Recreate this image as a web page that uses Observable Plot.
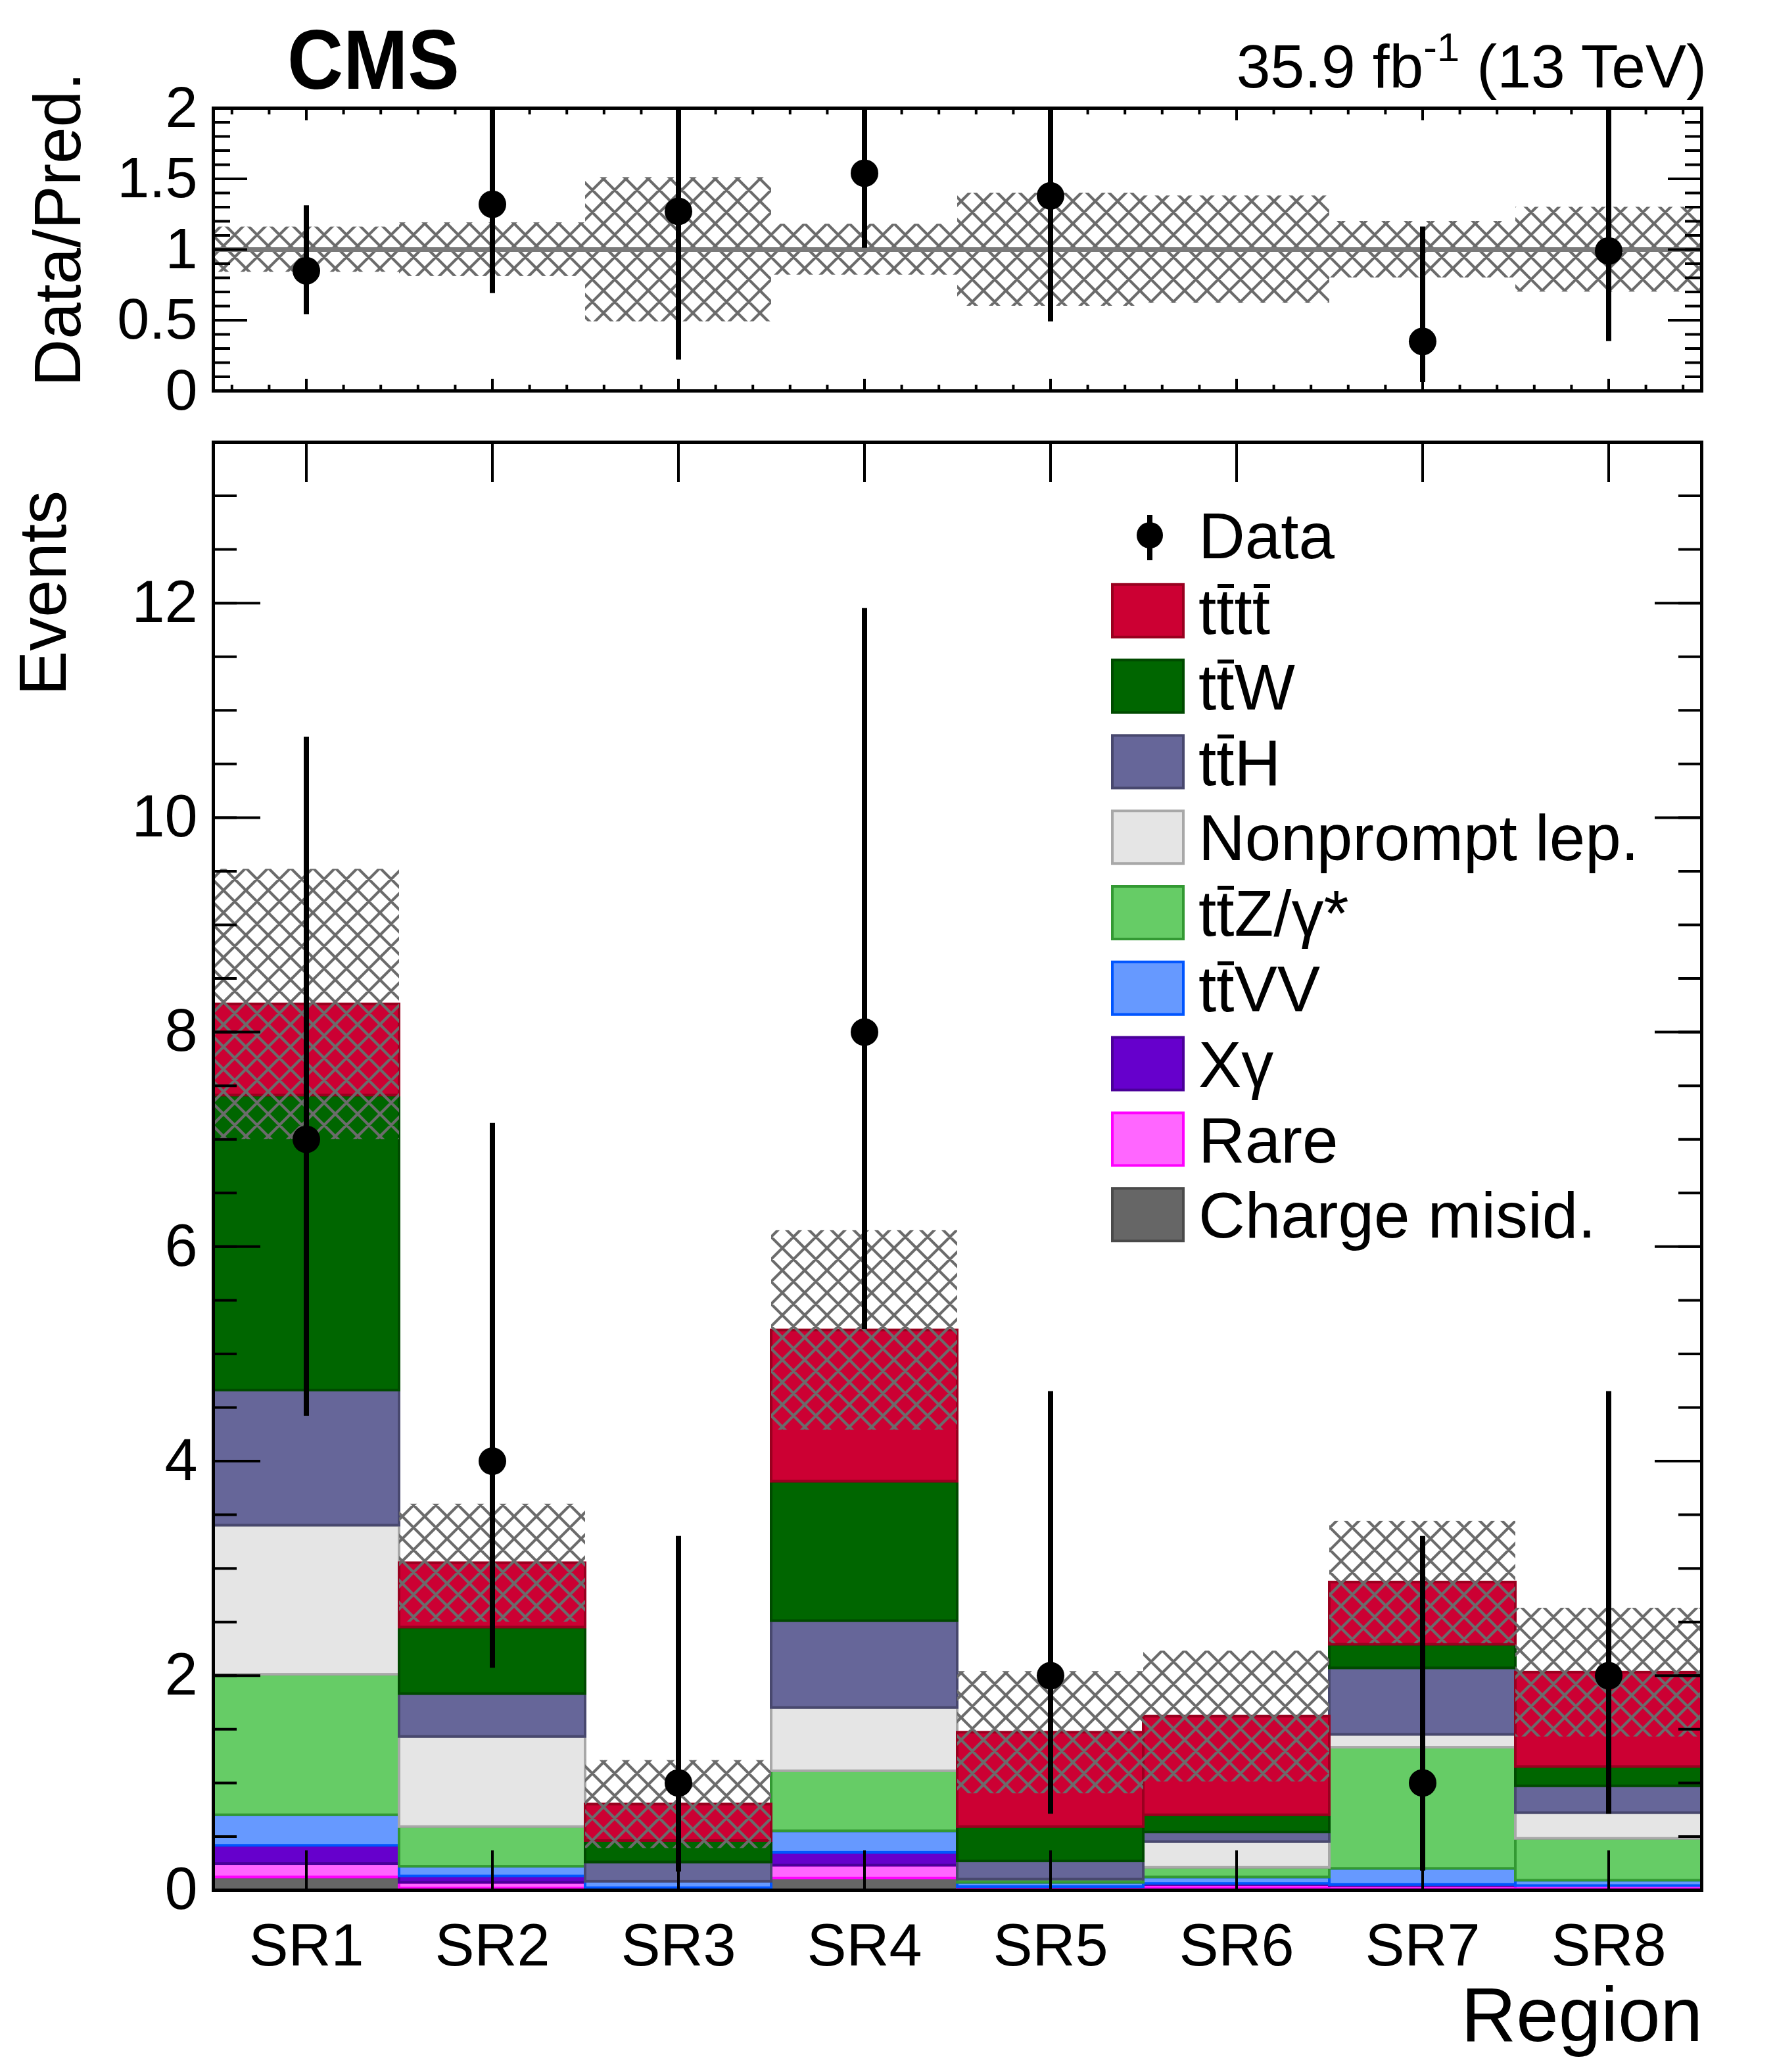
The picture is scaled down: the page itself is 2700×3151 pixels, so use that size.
<!DOCTYPE html>
<html><head><meta charset="utf-8">
<script src="https://cdn.jsdelivr.net/npm/d3@7"></script>
<script src="https://cdn.jsdelivr.net/npm/@observablehq/plot@0.6"></script>
<style>
html,body{margin:0;padding:0;background:#fff;}
#root{position:relative;width:2700px;height:3151px;font-family:"Liberation Sans",Arial,Helvetica,sans-serif;color:#000;overflow:hidden;background:#fff}
.abs{position:absolute;left:0;top:0}
.lab{position:absolute;white-space:nowrap;line-height:1;font-size:98px}
.ov{position:relative;display:inline-block;line-height:1}
.ov::after{content:"";position:absolute;left:0.02em;right:0.0em;top:0.07em;height:6px;background:#000}
</style></head><body><div id="root"></div>
<script>
// ---------------- data ----------------
const regions = ["SR1","SR2","SR3","SR4","SR5","SR6","SR7","SR8"];

// predicted yields per process
const tttt        = [0.85, 0.60, 0.34, 1.41, 0.88, 0.92, 0.58, 0.88];
const ttW         = [2.75, 0.62, 0.20, 1.30, 0.32, 0.16, 0.22, 0.18];
const ttH         = [1.26, 0.40, 0.18, 0.81, 0.17, 0.09, 0.62, 0.25];
const nonprompt   = [1.39, 0.84, 0.00, 0.59, 0.00, 0.24, 0.12, 0.24];
const ttZ         = [1.31, 0.37, 0.00, 0.56, 0.03, 0.09, 1.13, 0.39];
const ttVV        = [0.285,0.09, 0.06, 0.20, 0.04, 0.06, 0.15, 0.05];
const xgamma      = [0.17, 0.06, 0.00, 0.12, 0.00, 0.01, 0.01, 0.00];
const rare        = [0.125,0.054,0.01, 0.12, 0.02, 0.03, 0.03, 0.03];
const chargeMisid = [0.12, 0.016,0.01, 0.11, 0.01, 0.02, 0.01, 0.01];

// total prediction uncertainty (absolute, half-width of hatched band)
const predUnc = [1.26, 0.55, 0.41, 0.93, 0.57, 0.61, 0.57, 0.60];

// observed data and error bars (SR6 has no entry drawn)
const dataObs  = [7, 4, 1, 8, 2, null, 1, 2];
const dataLow  = [4.42, 2.07, 0.17, 5.23, 0.71, null, 0.18, 0.71];
const dataHigh = [10.75, 7.15, 3.30, 11.95, 4.65, null, 3.30, 4.65];

// ratio panel
const ratioValues = [0.85, 1.32, 1.27, 1.54, 1.38, null, 0.35, 0.99];
const ratioLow    = [0.54, 0.69, 0.22, 1.01, 0.49, null, 0.06, 0.35];
const ratioHigh   = [1.31, 2.35, 4.10, 2.29, 3.16, null, 1.16, 2.29];
const ratioBand   = [0.16, 0.19, 0.51, 0.18, 0.40, 0.38, 0.20, 0.30];

// tick values
const mainMajorTicks = [0, 2, 4, 6, 8, 10, 12];
const mainMinorTicks = d3.range(0, 13.51, 0.5);
const ratioMajorTicks = [0, 0.5, 1, 1.5, 2];
const ratioMinorTicks = d3.range(0, 2.0001, 0.1);

// processes in legend order (top of legend = top of stack)
const processes = [
  {label: "tt\u0304tt\u0304",   values: tttt,        fill: "#cc0033", stroke: "#99001f"},
  {label: "tt\u0304W",          values: ttW,         fill: "#006600", stroke: "#004a00"},
  {label: "tt\u0304H",          values: ttH,         fill: "#666699", stroke: "#48486e"},
  {label: "Nonprompt lep.",     values: nonprompt,   fill: "#e5e5e5", stroke: "#a8a8a8"},
  {label: "tt\u0304Z/\u03b3*",  values: ttZ,         fill: "#66cc66", stroke: "#339933"},
  {label: "tt\u0304VV",         values: ttVV,        fill: "#6699ff", stroke: "#0055ff"},
  {label: "X\u03b3",            values: xgamma,      fill: "#6600cc", stroke: "#4a0099"},
  {label: "Rare",               values: rare,        fill: "#ff66ff", stroke: "#ff00ff"},
  {label: "Charge misid.",      values: chargeMisid, fill: "#666666", stroke: "#4a4a4a"}
];

// ---------------- tables ----------------
const stackRows = [];
processes.slice().reverse().forEach(p => {
  p.values.forEach((v, i) => { if (v > 0) stackRows.push({bin: i, value: v, fill: p.fill, stroke: p.stroke}); });
});
const bins = regions.map((r, i) => ({
  bin: i, region: r,
  total: d3.sum(processes, p => p.values[i]),
  unc: predUnc[i], band: ratioBand[i]
}));
const obsRows = regions.map((r, i) => ({bin: i, n: dataObs[i], lo: dataLow[i], hi: dataHigh[i]})).filter(d => d.n != null);
const ratioRows = regions.map((r, i) => ({bin: i, v: ratioValues[i], lo: ratioLow[i], hi: ratioHigh[i]})).filter(d => d.v != null);

const centers = regions.map((r, i) => i + 0.5);
const xMinor = [];
regions.forEach((r, i) => [0.1, 0.3, 0.7, 0.9].forEach(f => xMinor.push(i + f)));

const FONT = "Liberation Sans, Arial, Helvetica, sans-serif";
const W = 2700, LEFT = 324, RIGHT = 112;
const HW = 34, HH = 34;
const hatchPath = (() => {
  let d = "";
  for (const dx of [-HW, 0, HW]) for (const dy of [-HH, 0, HH]) {
    d += `M${dx},${dy}L${dx + HW},${dy + HH}M${dx + HW},${dy}L${dx},${dy + HH}`;
  }
  return d;
})();
function addPattern(svg, id) {
  d3.select(svg).insert("defs", ":first-child").html(
    `<pattern id="${id}" patternUnits="userSpaceOnUse" width="${HW}" height="${HH}"><path d="${hatchPath}" stroke="#6b6b6b" stroke-width="4.2" fill="none"/></pattern>`);
}

const root = document.getElementById("root");

// ---------------- ratio panel ----------------
const ratioPlot = Plot.plot({
  width: W, height: 640,
  marginLeft: LEFT, marginRight: RIGHT, marginTop: 164, marginBottom: 46,
  x: {domain: [0, 8], axis: null},
  y: {domain: [0, 2], axis: null},
  color: {type: "identity"},
  style: {fontFamily: FONT, background: "transparent", overflow: "visible", color: "black"},
  marks: [
    Plot.rect(bins, {x1: "bin", x2: d => d.bin + 1, y1: d => 1 - d.band, y2: d => 1 + d.band, fill: "url(#hatchR)"}),
    Plot.ruleY([1], {stroke: "#7a7a7a", strokeWidth: 7}),
    Plot.ruleX(ratioRows, {x: d => d.bin + 0.5, y1: "lo", y2: "hi", stroke: "black", strokeWidth: 8, clip: true}),
    Plot.dot(ratioRows, {x: d => d.bin + 0.5, y: "v", r: 21, fill: "black", stroke: null}),
    Plot.axisY(ratioMinorTicks, {anchor: "left", tickSize: -26, strokeWidth: 4, fill: "none", label: null}),
    Plot.axisY(ratioMajorTicks, {anchor: "left", tickSize: -52, strokeWidth: 4, fill: "none", label: null}),
    Plot.axisY(ratioMinorTicks, {anchor: "right", tickSize: -26, strokeWidth: 4, fill: "none", label: null}),
    Plot.axisY(ratioMajorTicks, {anchor: "right", tickSize: -52, strokeWidth: 4, fill: "none", label: null}),
    Plot.axisY(ratioMajorTicks, {anchor: "left", tickSize: 0, tickPadding: 24, fontSize: 88, tickFormat: d => String(d), label: null}),
    Plot.axisX(xMinor, {anchor: "bottom", tickSize: -9, strokeWidth: 4, fill: "none", label: null}),
    Plot.axisX(centers, {anchor: "bottom", tickSize: -18, strokeWidth: 4, fill: "none", label: null}),
    Plot.axisX(xMinor, {anchor: "top", tickSize: -9, strokeWidth: 4, fill: "none", label: null}),
    Plot.axisX(centers, {anchor: "top", tickSize: -18, strokeWidth: 4, fill: "none", label: null}),
    Plot.frame({stroke: "black", strokeWidth: 5})
  ]
});
addPattern(ratioPlot, "hatchR");
const rdiv = document.createElement("div"); rdiv.className = "abs"; rdiv.style.top = "0px";
rdiv.appendChild(ratioPlot); root.appendChild(rdiv);

// ---------------- main panel ----------------
const mainPlot = Plot.plot({
  width: W, height: 2511,
  marginLeft: LEFT, marginRight: RIGHT, marginTop: 32, marginBottom: 277,
  x: {domain: [0, 8], axis: null},
  y: {domain: [0, 13.5], axis: null},
  color: {type: "identity"},
  style: {fontFamily: FONT, background: "transparent", overflow: "visible", color: "black"},
  marks: [
    Plot.rectY(stackRows, Plot.stackY({x1: "bin", x2: d => d.bin + 1, y: "value", fill: "fill", stroke: "stroke", strokeWidth: 4})),
    Plot.rect(bins, {x1: "bin", x2: d => d.bin + 1, y1: d => d.total - d.unc, y2: d => d.total + d.unc, fill: "url(#hatchM)"}),
    Plot.ruleX(obsRows, {x: d => d.bin + 0.5, y1: "lo", y2: "hi", stroke: "black", strokeWidth: 8}),
    Plot.dot(obsRows, {x: d => d.bin + 0.5, y: "n", r: 21, fill: "black", stroke: null}),
    Plot.axisY(mainMinorTicks, {anchor: "left", tickSize: -36, strokeWidth: 4, fill: "none", label: null}),
    Plot.axisY(mainMajorTicks, {anchor: "left", tickSize: -72, strokeWidth: 4, fill: "none", label: null}),
    Plot.axisY(mainMinorTicks, {anchor: "right", tickSize: -36, strokeWidth: 4, fill: "none", label: null}),
    Plot.axisY(mainMajorTicks, {anchor: "right", tickSize: -72, strokeWidth: 4, fill: "none", label: null}),
    Plot.axisY(mainMajorTicks, {anchor: "left", tickSize: 0, tickPadding: 24, fontSize: 90, tickFormat: d => String(d), label: null}),
    Plot.axisX(centers, {anchor: "bottom", tickSize: -60, strokeWidth: 4, fill: "none", label: null}),
    Plot.axisX(centers, {anchor: "top", tickSize: -60, strokeWidth: 4, fill: "none", label: null}),
    Plot.axisX(centers, {anchor: "bottom", tickSize: 0, tickPadding: 51, fontSize: 90, tickFormat: d => regions[Math.floor(d)], label: null}),
    Plot.frame({stroke: "black", strokeWidth: 5})
  ]
});
addPattern(mainPlot, "hatchM");
const mdiv = document.createElement("div"); mdiv.className = "abs"; mdiv.style.top = "640px";
mdiv.appendChild(mainPlot); root.appendChild(mdiv);

// ---------------- titles & legend overlay ----------------
const ov = d3.select(root).append("svg").attr("class", "abs")
  .attr("width", W).attr("height", 3151).style("font-family", FONT).style("pointer-events", "none");

ov.append("text").attr("x", 437).attr("y", 135).attr("font-size", 128).attr("font-weight", "bold")
  .attr("textLength", 262).attr("lengthAdjust", "spacingAndGlyphs").text("CMS");

const lumi = ov.append("text").attr("x", 2596).attr("y", 133).attr("font-size", 93).attr("text-anchor", "end");
lumi.append("tspan").text("35.9 fb");
lumi.append("tspan").attr("font-size", 62).attr("dy", -40).text("-1");
lumi.append("tspan").attr("dy", 40).text(" (13 TeV)");

ov.append("text").attr("transform", "translate(122,110) rotate(-90)").attr("text-anchor", "end")
  .attr("font-size", 100).text("Data/Pred.");
ov.append("text").attr("transform", "translate(100,746) rotate(-90)").attr("text-anchor", "end")
  .attr("font-size", 102).text("Events");
ov.append("text").attr("x", 2590).attr("y", 3104).attr("text-anchor", "end")
  .attr("font-size", 116).text("Region");

// legend
const LEG_X = 1690, LEG_Y0 = 814, LEG_STEP = 114.8, TEXT_X = 1823, LFS = 98;
const legendRows = [{label: "Data", kind: "data"}].concat(processes.map(p => ({label: p.label, kind: "box", fill: p.fill, stroke: p.stroke})));
legendRows.forEach((row, i) => {
  const cy = LEG_Y0 + i * LEG_STEP;
  if (row.kind === "data") {
    ov.append("line").attr("x1", 1749).attr("x2", 1749).attr("y1", cy - 31).attr("y2", cy + 38)
      .attr("stroke", "black").attr("stroke-width", 8);
    ov.append("circle").attr("cx", 1749).attr("cy", cy).attr("r", 20).attr("fill", "black");
  } else {
    ov.append("rect").attr("x", LEG_X + 2).attr("y", cy - 40).attr("width", 108).attr("height", 80)
      .attr("fill", row.fill).attr("stroke", row.stroke).attr("stroke-width", 4);
  }
  const div = document.createElement("div");
  div.className = "lab";
  div.style.left = TEXT_X + "px";
  div.style.top = (cy - 0.4885 * LFS) + "px";
  div.innerHTML = row.label.replace(/t\u0304/g, '<span class="ov">t</span>');
  root.appendChild(div);
});
</script>
</body></html>
